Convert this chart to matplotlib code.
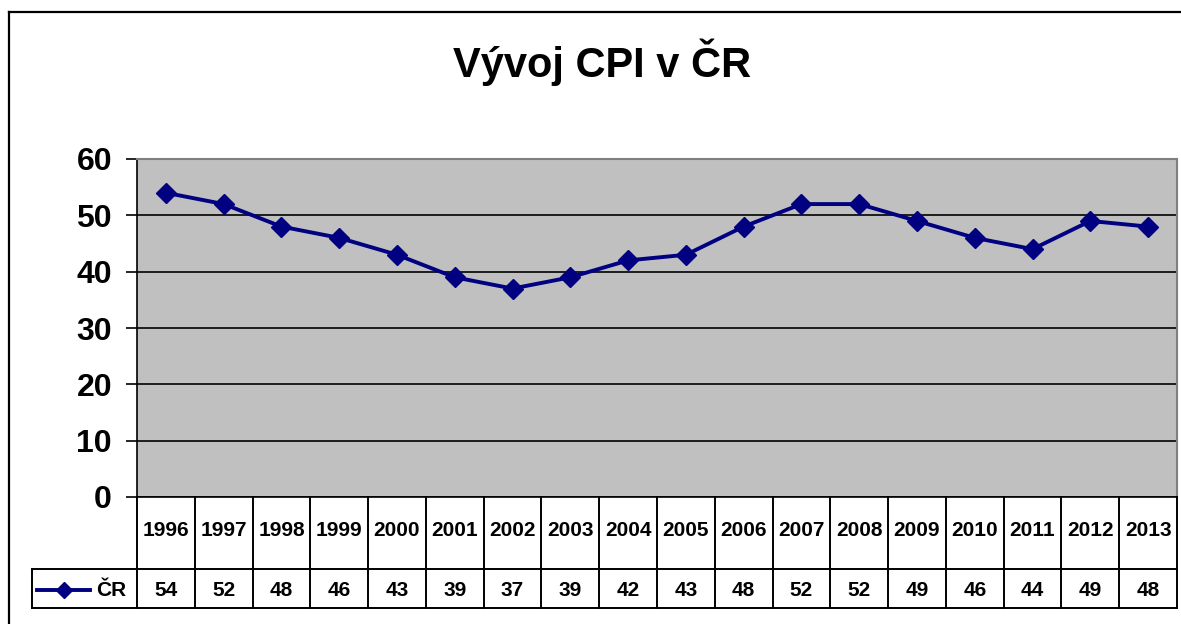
import matplotlib.pyplot as plt
from matplotlib.lines import Line2D

plt.rcParams["font.family"] = ["Liberation Sans", "DejaVu Sans"]
plt.rcParams["font.weight"] = "bold"

years = ["1996", "1997", "1998", "1999", "2000", "2001", "2002", "2003", "2004",
         "2005", "2006", "2007", "2008", "2009", "2010", "2011", "2012", "2013"]
cpi = [54, 52, 48, 46, 43, 39, 37, 39, 42, 43, 48, 52, 52, 49, 46, 44, 49, 48]
series_name = "ČR"
title = "Vývoj CPI v ČR"

W, H = 1181, 624
navy = "#000080"


def box(x0, y0, x1, y1):
    # pixel box (top-left origin) -> figure fraction rect
    return [x0 / W, 1 - y1 / H, (x1 - x0) / W, (y1 - y0) / H]


fig = plt.figure(figsize=(W / 100, H / 100), dpi=100)

# outer chart frame
fig.add_artist(Line2D([9 / W, 9 / W], [0, 1 - 12 / H], color="black", lw=1.6,
                      transform=fig.transFigure))
fig.add_artist(Line2D([9 / W, 1], [1 - 12 / H, 1 - 12 / H], color="black", lw=1.6,
                      transform=fig.transFigure))

fig.text(602 / W, 1 - 62 / H, title, ha="center", va="center", fontsize=30,
         fontweight="bold")

# plot area
px0, px1, py0, py1 = 137, 1177, 159, 497
ax = fig.add_axes(box(px0, py0, px1, py1))
ax.set_facecolor("#C0C0C0")
x = list(range(len(years)))
ax.set_xlim(-0.5, len(years) - 0.5)
ax.set_ylim(0, 60)
ax.set_yticks(range(0, 61, 10))
ax.yaxis.grid(True, color="black", lw=1.2)
ax.set_axisbelow(True)
ax.plot(x, cpi, color=navy, lw=2.8, marker="D", markersize=10, zorder=3)
ax.set_xticks([])
ax.tick_params(axis="y", labelsize=23, length=8, width=1.2, pad=10)
for lab in ax.get_yticklabels():
    lab.set_fontweight("bold")
for s in ["top", "right"]:
    ax.spines[s].set_color("#808080")
    ax.spines[s].set_linewidth(1.5)
ax.spines["left"].set_linewidth(1.2)
ax.spines["bottom"].set_linewidth(1.2)

# data table below the plot
unit = (px1 - px0) / len(years)
tx0 = 32
left_units = (px0 - tx0) / unit
tax = fig.add_axes(box(tx0, py1, px1, 609))
tax.set_xlim(-0.5 - left_units, len(years) - 0.5)
tax.set_ylim(609 - py1, 0)
tax.axis("off")
row1 = 569 - py1
bottom = 608 - py1
lk = dict(color="black", lw=1.4, clip_on=False)
for i in range(len(years) + 1):
    xb = i - 0.5
    tax.plot([xb, xb], [0, bottom], **lk)
tax.plot([-0.5 - left_units, -0.5 - left_units], [row1, bottom], **lk)
tax.plot([-0.5 - left_units, len(years) - 0.5], [row1, row1], **lk)
tax.plot([-0.5 - left_units, len(years) - 0.5], [bottom, bottom], **lk)
for i, (yr, v) in enumerate(zip(years, cpi)):
    tax.text(i, (531 - py1), yr, ha="center", va="center", fontsize=15,
             fontweight="bold")
    tax.text(i, (590 - py1), str(v), ha="center", va="center", fontsize=15,
             fontweight="bold")

# legend key in table
lx0 = -0.5 - left_units + 5 / unit
lx1 = -0.5 - left_units + 58 / unit
tax.plot([lx0, lx1], [590 - py1, 590 - py1], color=navy, lw=2.8, clip_on=False)
tax.plot([(lx0 + lx1) / 2], [590 - py1], color=navy, marker="D", markersize=8,
         clip_on=False)
tax.text(-0.5 - left_units + 64 / unit, 590 - py1, series_name, ha="left",
         va="center", fontsize=15, fontweight="bold")

fig.savefig("out.png", dpi=100)
